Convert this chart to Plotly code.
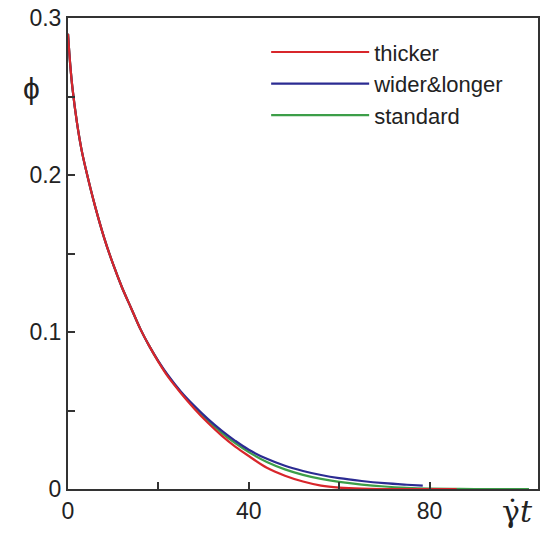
import plotly.graph_objects as go

# shear strain (gamma-dot t) sample points
t_thicker = [0, 0.5, 1, 2, 3, 4, 6, 8, 10, 12, 14, 16, 18, 20, 22, 25, 28, 31, 34, 37, 40,
             44, 48, 52, 56, 60, 65, 70, 75, 80, 86]
phi_thicker = [0.290, 0.270, 0.255, 0.233, 0.216, 0.203, 0.180, 0.160, 0.143, 0.128, 0.115,
               0.102, 0.091, 0.081, 0.072, 0.061, 0.051, 0.042, 0.034, 0.027, 0.021,
               0.0135, 0.0085, 0.0048, 0.0022, 0.0009, 0.0002, 0.0, 0.0, 0.0, 0.0]

t_wider = [0, 0.5, 1, 2, 3, 4, 6, 8, 10, 12, 14, 16, 18, 20, 22, 25, 28, 31, 34, 37, 40,
           44, 48, 52, 56, 60, 65, 70, 75, 78.5]
phi_wider = [0.290, 0.270, 0.255, 0.233, 0.216, 0.203, 0.180, 0.160, 0.143, 0.128, 0.115,
             0.102, 0.091, 0.0815, 0.0730, 0.0620, 0.0528, 0.0445, 0.0372, 0.0307, 0.0250,
             0.0192, 0.0148, 0.0115, 0.0089, 0.0069, 0.0051, 0.0037, 0.0027, 0.0021]

t_standard = [0, 0.5, 1, 2, 3, 4, 6, 8, 10, 12, 14, 16, 18, 20, 22, 25, 28, 31, 34, 37, 40,
              44, 48, 52, 56, 60, 65, 70, 75, 80, 85, 90, 96, 102]
phi_standard = [0.290, 0.270, 0.255, 0.233, 0.216, 0.203, 0.180, 0.160, 0.143, 0.128, 0.115,
                0.102, 0.091, 0.0812, 0.0725, 0.0615, 0.0520, 0.0433, 0.0358, 0.0292, 0.0235,
                0.0172, 0.0125, 0.0090, 0.0064, 0.0045, 0.0028, 0.0016, 0.0008, 0.0003,
                0.00005, 0.0, 0.0, 0.0]

x_ticks = [0, 40, 80]
y_ticks = [0, 0.1, 0.2, 0.3]
y_tick_labels = ["0", "0.1", "0.2", "0.3"]

RED = "#d8262b"
BLUE = "#2b2b92"
GREEN = "#3c9e48"
AX = "#333333"
TXT = "#222222"
FONT = "Liberation Sans, Arial, sans-serif"

fig = go.Figure()
fig.add_trace(go.Scatter(x=t_standard, y=phi_standard, mode="lines", name="standard",
                         line=dict(color=GREEN, width=2.2, shape="spline"), legendrank=3))
fig.add_trace(go.Scatter(x=t_wider, y=phi_wider, mode="lines", name="wider&longer",
                         line=dict(color=BLUE, width=2.2, shape="spline"), legendrank=2))
fig.add_trace(go.Scatter(x=t_thicker, y=phi_thicker, mode="lines", name="thicker",
                         line=dict(color=RED, width=2.2, shape="spline"), legendrank=1))

fig.update_layout(
    width=545, height=533,
    margin=dict(l=68, r=5, t=15, b=44),
    paper_bgcolor="white", plot_bgcolor="white",
    font=dict(family=FONT, size=23, color=TXT),
    showlegend=True,
    legend=dict(x=0.4216, y=0.972, xanchor="left", yanchor="top",
                bgcolor="rgba(0,0,0,0)", font=dict(size=22, family=FONT, color=TXT),
                itemwidth=98, tracegroupgap=0),
    xaxis=dict(range=[0, 104], tickvals=x_ticks, ticks="inside", ticklen=7, tickwidth=2,
               tickcolor=AX, showline=True, linecolor=AX, linewidth=2, mirror=True,
               showgrid=False, zeroline=False,
               minor=dict(tickvals=[20, 60], ticks="inside", ticklen=7, tickwidth=2, tickcolor=AX),
               tickfont=dict(size=23, family=FONT, color=TXT)),
    yaxis=dict(range=[0, 0.3], tickvals=y_ticks, ticktext=y_tick_labels, ticks="inside",
               ticklen=7, tickwidth=2, tickcolor=AX, showline=True, linecolor=AX, linewidth=2,
               mirror=True, showgrid=False, zeroline=False,
               minor=dict(tickvals=[0.05, 0.15, 0.25], ticks="inside", ticklen=7, tickwidth=2,
                          tickcolor=AX),
               tickfont=dict(size=23, family=FONT, color=TXT)),
)

fig.add_annotation(text="\u03d5", xref="paper", yref="paper", x=-0.1, y=0.89,
                   showarrow=False, font=dict(size=30, family=FONT, color=TXT))
fig.add_annotation(text="\u03b3\u0307<i>t</i>", xref="paper", yref="paper",
                   x=0.993, y=-0.09, xanchor="right",
                   showarrow=False,
                   font=dict(size=30, family="DejaVu Serif, serif", color=TXT))

fig.write_html("out.html")
